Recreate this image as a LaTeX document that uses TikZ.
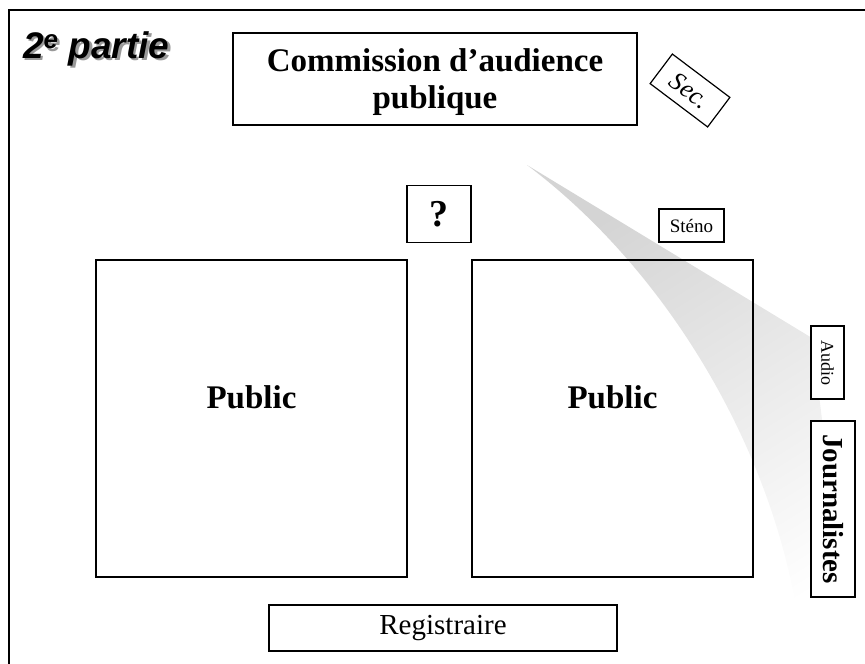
\documentclass[tikz,border=0pt]{standalone}
\usepackage{fontspec}
\setmainfont{Liberation Serif}
\newfontfamily\arialfont{Liberation Sans}
\begin{document}
\begin{tikzpicture}[x=1pt,y=-1pt,
  box/.style={draw=black,line width=1.2pt,rectangle,inner sep=0pt},
  bigtxt/.style={font=\bfseries\fontsize{33}{37}\selectfont,align=center},
  titlefont/.style={font=\arialfont\bfseries\itshape\fontsize{37}{42}\selectfont}]
\useasboundingbox (0,0) rectangle (865,664);
% frame
\draw[line width=2.2pt] (9,664) -- (9,10) -- (865,10);
% gray swoosh
\shade[top color=black!17, bottom color=white, shading angle=32]
  (527,165) -- (812,338) -- (852,664) -- (803,664)
  .. controls (790,480) and (680,280) .. (527,165);
% title with shadow
\node[anchor=base west,text=black!40,titlefont] (titleshadow) at (22,60.5) {2\textsuperscript{e} partie};
\node[anchor=base west,titlefont] (title) at (19.5,58) {2\textsuperscript{e} partie};
% boxes
\node[box,minimum width=404pt,minimum height=92pt] (comm) at (435,79) {};
\node[bigtxt] (commt) at (435,82) {Commission d’audience\\publique};
\node[box,minimum width=72pt,minimum height=37pt,rotate=-37,font=\itshape\fontsize{26}{30}\selectfont] (sec) at (690,90.5) {Sec.};
\node[box,minimum width=64pt,minimum height=57pt,font=\bfseries\fontsize{38}{42}\selectfont] (q) at (439,214) {?};
\node[box,minimum width=65pt,minimum height=33pt,font=\fontsize{19}{22}\selectfont] (steno) at (691.5,225.5) {Sténo};
\node[box,minimum width=311pt,minimum height=317pt] (pubL) at (251.5,418.5) {};
\node[bigtxt] (pubLt) at (251.5,397) {Public};
\node[box,minimum width=281pt,minimum height=317pt] (pubR) at (612.5,418.5) {};
\node[bigtxt] (pubRt) at (612.5,397) {Public};
\node[box,fill=white,minimum width=73pt,minimum height=33pt,rotate=-90,font=\fontsize{18}{22}\selectfont] (audio) at (827.5,362.5) {Audio};
\node[box,fill=white,minimum width=176pt,minimum height=44pt,rotate=-90,font=\bfseries\fontsize{29}{33}\selectfont] (journ) at (833,509) {Journalistes};
\node[box,minimum width=348pt,minimum height=46pt,font=\fontsize{29}{33}\selectfont] (reg) at (443,628) {Registraire};
\end{tikzpicture}
\end{document}
